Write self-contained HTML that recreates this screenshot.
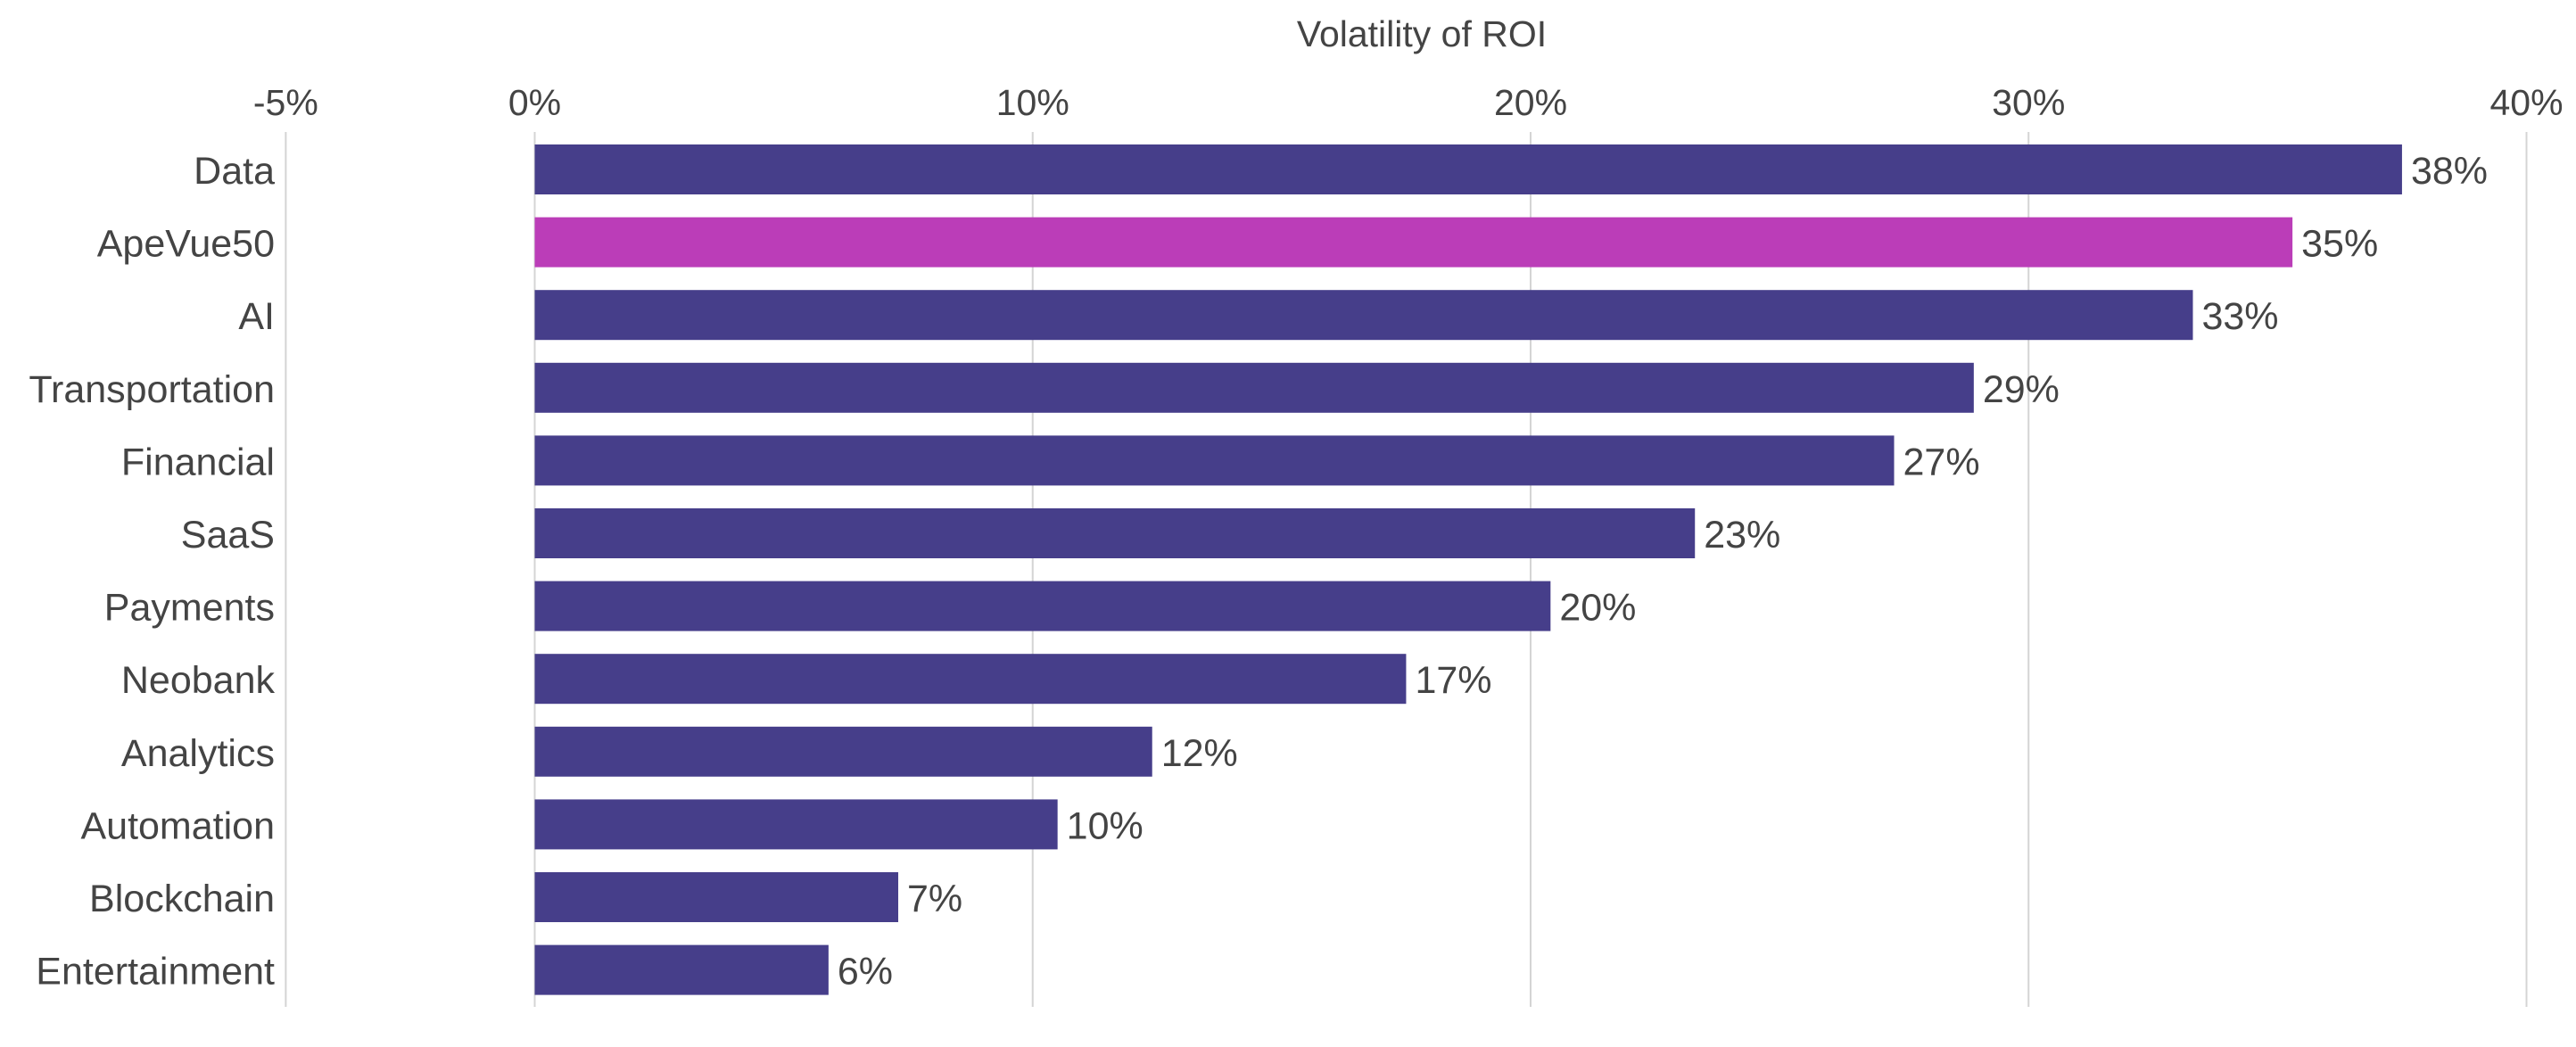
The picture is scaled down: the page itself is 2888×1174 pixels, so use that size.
<!DOCTYPE html>
<html><head><meta charset="utf-8"><style>
html,body{margin:0;padding:0;background:#fff;}
svg{display:block;font-family:"Liberation Sans","DejaVu Sans",sans-serif;}
</style></head><body>
<svg id="chart" width="2888" height="1174" viewBox="0 0 2888 1174" xmlns="http://www.w3.org/2000/svg">
<text x="1594" y="52" font-size="41" fill="#444" text-anchor="middle">Volatility of ROI</text>
<g id="grid"></g>
<g id="ticks"></g>
<g id="bars"></g>
<g id="cats"></g>
<g id="vals"></g>
</svg>
<script>
const categories = ["Data","ApeVue50","AI","Transportation","Financial","SaaS","Payments","Neobank","Analytics","Automation","Blockchain","Entertainment"];
const values = [37.5,35.3,33.3,28.9,27.3,23.3,20.4,17.5,12.4,10.5,7.3,5.9];
const valueLabels = ["38%","35%","33%","29%","27%","23%","20%","17%","12%","10%","7%","6%"];
const tickValues = [-5,0,10,20,30,40];
const tickLabels = ["-5%","0%","10%","20%","30%","40%"];
const highlight = "ApeVue50";

const NS="http://www.w3.org/2000/svg";
const x0=599.5, pxPer=55.825;
const xs=v=>x0+v*pxPer;
const top0=162, pitch=81.6, barH=56;
const ys=i=>top0+i*pitch;
function mk(tag,parent){const e=document.createElementNS(NS,tag);document.getElementById(parent).appendChild(e);return e;}

tickValues.forEach((t,i)=>{
  const l=mk('line','grid');
  
  
  l.setAttribute('x1',xs(t));l.setAttribute('x2',xs(t));
  l.setAttribute('y1',148);l.setAttribute('y2',1129);
  l.setAttribute('stroke','#d4d4d4');l.setAttribute('stroke-width','2');
  const tx=mk('text','ticks');
  
  
  tx.setAttribute('x',xs(t));tx.setAttribute('y',129);
  tx.setAttribute('font-size','41');tx.setAttribute('fill','#444');
  tx.setAttribute('text-anchor','middle');
  tx.textContent=tickLabels[i];
});

categories.forEach((c,i)=>{
  const y=ys(i);
  const r=mk('rect','bars');
  
  
  r.setAttribute('x',xs(0));r.setAttribute('y',y);
  r.setAttribute('width',Math.max(0,xs(values[i])-xs(0)));r.setAttribute('height',barH);
  r.setAttribute('fill',c===highlight?'#bb3db8':'#463e8a');
  const ct=mk('text','cats');
  
  
  ct.setAttribute('x',308);ct.setAttribute('y',y+barH/2+16);
  ct.setAttribute('font-size','43');ct.setAttribute('fill','#444');
  ct.setAttribute('text-anchor','end');
  ct.textContent=c;
  const vt=mk('text','vals');
  
  
  vt.setAttribute('x',xs(values[i])+10);vt.setAttribute('y',y+barH/2+16);
  vt.setAttribute('font-size','43');vt.setAttribute('fill','#444');
  vt.textContent=valueLabels[i];
});
</script>
</body></html>
